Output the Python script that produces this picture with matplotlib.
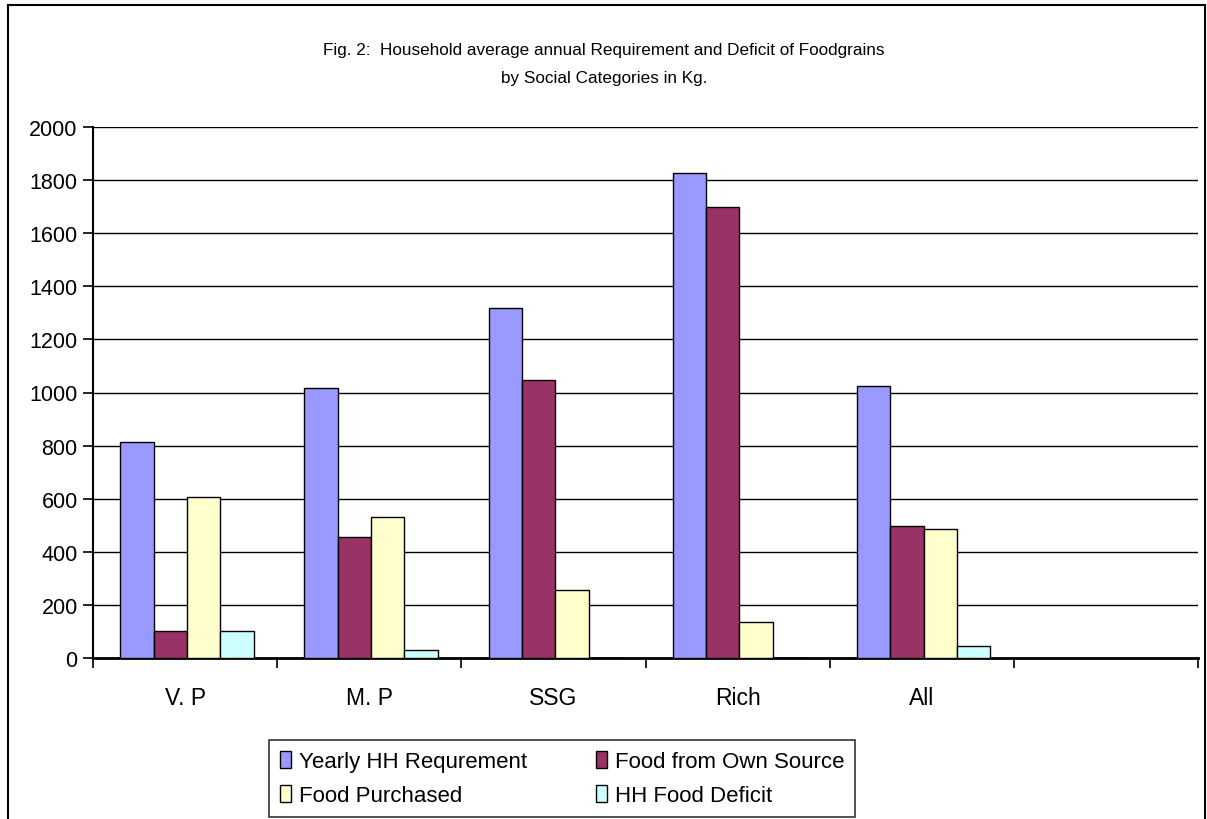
import matplotlib as mpl
mpl.use('Agg')
import matplotlib.pyplot as plt
import numpy as np

plt.rcParams['font.family'] = ['Liberation Sans', 'DejaVu Sans']

categories = ['V. P', 'M. P', 'SSG', 'Rich', 'All']
requirement = [815, 1018, 1320, 1825, 1025]
own_source = [100, 455, 1048, 1697, 498]
purchased = [605, 530, 258, 137, 485]
deficit = [100, 30, 0, 0, 47]

series = [
    ('Yearly HH Requrement', requirement, '#9999FF'),
    ('Food from Own Source', own_source, '#993366'),
    ('Food Purchased', purchased, '#FFFFCC'),
    ('HH Food Deficit', deficit, '#CCFFFF'),
]
n_slots = 6  # Excel left an empty sixth slot

fig = plt.figure(figsize=(12.07, 8.2), dpi=100)
ax = fig.add_axes([93 / 1207, 1 - 659 / 820, (1198 - 93) / 1207, (659 - 128) / 820])

centers = np.arange(len(categories)) + 0.5
w = 0.181
handles = []
for j, (name, vals, color) in enumerate(series):
    b = ax.bar(centers + (j - 1.5) * w + 0.01, vals, w, color=color,
               edgecolor='black', linewidth=1.0, label=name, zorder=3)
    handles.append(b)

ax.set_xlim(0, n_slots)
ax.set_ylim(0, 2000)
ax.set_yticks(np.arange(0, 2001, 200))
ax.yaxis.grid(True, color='black', linewidth=1.0, zorder=0)
ax.set_axisbelow(True)

ax.set_xticks(np.arange(0, n_slots + 1))
ax.set_xticklabels([])
ax.set_xticks(centers, minor=True)
ax.set_xticklabels(categories, minor=True)
ax.tick_params(axis='x', which='minor', length=0, pad=20, labelsize=16.5)
ax.tick_params(axis='x', which='major', direction='out', length=7, width=1.2)
ax.tick_params(axis='y', direction='out', length=7, width=1.2, labelsize=15.5, pad=4)

for side in ['top', 'right']:
    ax.spines[side].set_visible(False)
ax.spines['left'].set_linewidth(1.5)
ax.spines['bottom'].set_linewidth(2)

fig.text(0.5005, 1 - 50 / 820, 'Fig. 2:  Household average annual Requirement and Deficit of Foodgrains',
         ha='center', va='center', fontsize=12.3)
fig.text(0.5005, 1 - 78 / 820, 'by Social Categories in Kg.', ha='center', va='center', fontsize=12.3)

# outer chart frame
fig.add_artist(plt.Line2D([8 / 1207, 8 / 1207], [0, 1 - 6 / 820], transform=fig.transFigure, color='black', lw=1.5))
fig.add_artist(plt.Line2D([8 / 1207, 1205 / 1207], [1 - 6 / 820, 1 - 6 / 820], transform=fig.transFigure, color='black', lw=1.5))
fig.add_artist(plt.Line2D([1205 / 1207, 1205 / 1207], [0, 1 - 6 / 820], transform=fig.transFigure, color='black', lw=1.5))

# legend filled row by row, as in Excel
order = [0, 2, 1, 3]
leg = fig.legend(handles=[handles[i] for i in order], loc='lower center', ncol=2,
                 bbox_to_anchor=(562 / 1207, 2 / 820),
                 fontsize=16, frameon=True, fancybox=False, edgecolor='black',
                 handlelength=0.5, handleheight=0.8, handletextpad=0.35, columnspacing=3.1,
                 labelspacing=0.55, borderpad=0.5, borderaxespad=0)
leg.get_frame().set_linewidth(1.2)

plt.savefig('out.png', dpi=100)
